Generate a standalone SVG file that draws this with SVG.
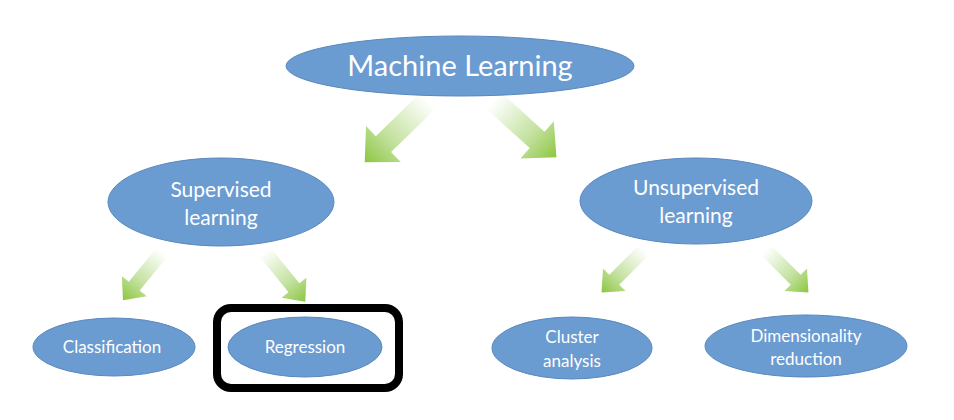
<svg xmlns="http://www.w3.org/2000/svg" width="954" height="420" viewBox="0 0 954 420">
<defs>
<linearGradient id="g" x1="0" y1="0" x2="1" y2="0">
<stop offset="0" stop-color="#92C950" stop-opacity="0"/>
<stop offset="0.6" stop-color="#92C950" stop-opacity="0.55"/>
<stop offset="1" stop-color="#8CC63F" stop-opacity="1"/>
</linearGradient>
<style>
.n{fill:#6A9BD1;stroke:#5A89BE;stroke-width:1}
.t{fill:#fff;font-family:Lato,"Open Sans","Liberation Sans",sans-serif;text-anchor:middle}
.a{fill:url(#g)}
</style>
</defs>
<rect width="954" height="420" fill="#fff"/>
<g id="connectors">
<path class="a" transform="translate(428,101) rotate(136)" d="M0,-11 L62,-11 L62,-25 L88,0 L62,25 L62,11 L0,11Z"/>
<path class="a" transform="translate(494,101) rotate(42)" d="M0,-11 L58,-11 L58,-25 L84,0 L58,25 L58,11 L0,11Z"/>
<path class="a" transform="translate(162,252) rotate(129)" d="M0,-7 L44,-7 L44,-16 L62,0 L44,16 L44,7 L0,7Z"/>
<path class="a" transform="translate(265,252) rotate(51)" d="M0,-7 L46,-7 L46,-16 L64,0 L46,16 L46,7 L0,7Z"/>
<path class="a" transform="translate(644,250) rotate(135)" d="M0,-7 L42,-7 L42,-16 L60,0 L42,16 L42,7 L0,7Z"/>
<path class="a" transform="translate(766,250) rotate(45)" d="M0,-7 L42,-7 L42,-16 L60,0 L42,16 L42,7 L0,7Z"/>
</g>
<g id="machine-learning">
<ellipse class="n" cx="460" cy="66" rx="174" ry="30"/>
<text class="t" x="460" y="76" font-size="29">Machine Learning</text>
</g>
<g id="supervised">
<ellipse class="n" cx="221" cy="202" rx="113" ry="44"/>
<text class="t" x="221" y="197" font-size="21">Supervised</text>
<text class="t" x="221" y="225" font-size="21">learning</text>
</g>
<g id="unsupervised">
<ellipse class="n" cx="696" cy="201" rx="116" ry="43"/>
<text class="t" x="696" y="195" font-size="21">Unsupervised</text>
<text class="t" x="696" y="223" font-size="21">learning</text>
</g>
<g id="classification">
<ellipse class="n" cx="114" cy="347" rx="81" ry="29"/>
<text class="t" x="112" y="353" font-size="17">Classification</text>
</g>
<g id="regression">
<rect x="217" y="308" width="182" height="80" rx="14" fill="none" stroke="#000" stroke-width="8"/>
<ellipse class="n" cx="305" cy="347" rx="77" ry="30"/>
<text class="t" x="305" y="353" font-size="17">Regression</text>
</g>
<g id="cluster">
<ellipse class="n" cx="572" cy="348" rx="80" ry="31"/>
<text class="t" x="572" y="343" font-size="17">Cluster</text>
<text class="t" x="572" y="367" font-size="17">analysis</text>
</g>
<g id="dimensionality">
<ellipse class="n" cx="806" cy="346" rx="101" ry="31"/>
<text class="t" x="806" y="342" font-size="17">Dimensionality</text>
<text class="t" x="806" y="365" font-size="17">reduction</text>
</g>
</svg>
